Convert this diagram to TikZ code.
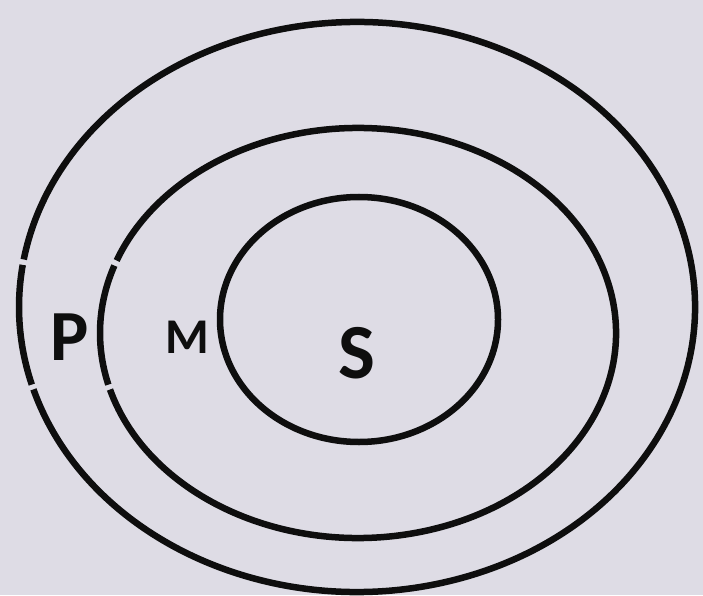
\documentclass[tikz,border=0pt]{standalone}
\usepackage{fontspec}
\setmainfont{Carlito}
\definecolor{bgpaper}{RGB}{222,220,229}
\definecolor{ink}{RGB}{14,14,14}
\tikzset{
  ring/.style={draw=ink, line width=6.5pt},
  lbl/.style={inner sep=0pt, text=ink, anchor=center}
}
\begin{document}
\begin{tikzpicture}[x=1pt,y=1pt]
  \fill[bgpaper] (0,0) rectangle (703,595);
  \useasboundingbox (0,0) rectangle (703,595);
  % outer ellipse (P) with two small breaks on the left
  \coordinate (cP) at (357,288);
  \draw[ring] (cP) ++(171.5:338pt and 285pt) arc[start angle=171.5, end angle=195.8, x radius=338pt, y radius=285pt];
  \draw[ring] (cP) ++(196.8:338pt and 285pt) arc[start angle=196.8, end angle=530.4, x radius=338pt, y radius=285pt];
  % middle ellipse (M)
  \coordinate (cM) at (358,262);
  \draw[ring] (cM) ++(160.8:258pt and 205pt) arc[start angle=160.8, end angle=194.6, x radius=258pt, y radius=205pt];
  \draw[ring] (cM) ++(196.0:258pt and 205pt) arc[start angle=196.0, end angle=519.3, x radius=258pt, y radius=205pt];
  % inner ellipse (S)
  \coordinate (cS) at (359,275.5);
  \draw[ring] (cS) ellipse[x radius=139pt, y radius=122.5pt];
  % labels
  \node[lbl, font=\bfseries\fontsize{72}{72}\selectfont] (P) at (70,258) {P};
  \node[lbl, font=\bfseries\fontsize{50}{50}\selectfont] (M) at (187,258) {M};
  \node[lbl, font=\bfseries\fontsize{78}{78}\selectfont] (S) at (357,242) {S};
\end{tikzpicture}
\end{document}
